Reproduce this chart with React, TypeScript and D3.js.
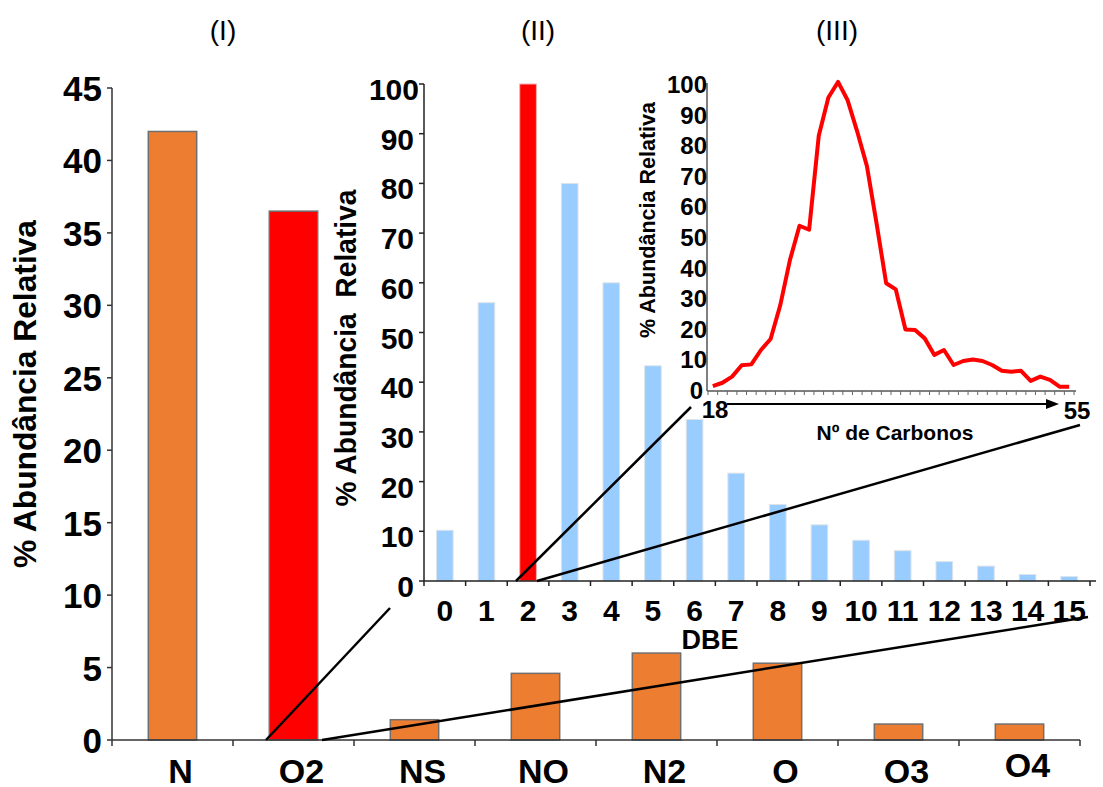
import React from "react";
import * as d3 from "d3";

// (I) relative abundance by heteroatom class
const classLabels = ["N", "O2", "NS", "NO", "N2", "O", "O3", "O4"];
const classAbundance = [42.0, 36.5, 1.4, 4.6, 6.0, 5.3, 1.1, 1.1];
const classTicks = [0, 5, 10, 15, 20, 25, 30, 35, 40, 45];

// (II) O2 class by DBE
const dbeLabels = ["0", "1", "2", "3", "4", "5", "6", "7", "8", "9", "10", "11", "12", "13", "14", "15"];
const dbeAbundance = [10.2, 56, 100, 80, 60, 43.3, 32.5, 21.7, 15.4, 11.3, 8.2, 6.1, 3.9, 3.0, 1.3, 0.9];
const dbeTicks = [0, 10, 20, 30, 40, 50, 60, 70, 80, 90, 100];

// (III) O2 / DBE 2 carbon-number distribution
const carbonNumbers = [
  18, 19, 20, 21, 22, 23, 24, 25, 26, 27, 28, 29, 30, 31, 32, 33, 34, 35, 36,
  37, 38, 39, 40, 41, 42, 43, 44, 45, 46, 47, 48, 49, 50, 51, 52, 53, 54, 55,
];
const carbonAbundance = [
  1.6, 2.7, 4.7, 8.4, 8.7, 13.4, 17.0, 28.0, 42.7, 54.0, 52.7, 83.4, 95.9, 101,
  95.0, 84.7, 73.5, 54.8, 35.2, 33.2, 20.1, 19.9, 17.2, 11.8, 13.4, 8.5, 9.8,
  10.3, 9.8, 8.5, 6.6, 6.3, 6.6, 3.3, 4.7, 3.6, 1.4, 1.4,
];
const carbonTicks = [0, 10, 20, 30, 40, 50, 60, 70, 80, 90, 100];

const FONT = "'Liberation Sans', Arial, Helvetica, sans-serif";
const ORANGE = "#ED7D31";
const RED = "#FF0000";
const BLUE = "#99CCFF";

export default function App() {
  // Panel I scales
  const x1 = d3.scaleBand<string>().domain(classLabels).range([112, 1080]).paddingInner(0).paddingOuter(0);
  const y1 = d3.scaleLinear().domain([0, 45]).range([740, 88]);
  const bw1 = x1.bandwidth() * 0.4;

  // Panel II scales
  const x2 = d3.scaleBand<string>().domain(dbeLabels).range([424, 1090]);
  const y2 = d3.scaleLinear().domain([0, 100]).range([581, 84]);
  const bw2 = x2.bandwidth() * 0.4;

  // Panel III scales
  const x3 = d3.scalePoint<number>().domain(carbonNumbers).range([708, 1074]).padding(0.5);
  const step3 = x3.step();
  const y3 = d3.scaleLinear().domain([0, 100]).range([391, 85]);
  const line3 = d3
    .line<number>()
    .x((_, i) => x3(carbonNumbers[i]) as number)
    .y((v) => y3(v));

  const bandEdges1 = d3.range(classLabels.length + 1).map((i) => 112 + i * x1.step());
  const bandEdges2 = d3.range(dbeLabels.length + 1).map((i) => 424 + i * x2.step());
  const bandEdges3 = d3
    .range(carbonNumbers.length + 1)
    .map((i) => (x3(carbonNumbers[0]) as number) - step3 / 2 + i * step3);

  return (
    <svg
      width={1103}
      height={787}
      viewBox="0 0 1103 787"
      style={{ position: "absolute", left: 0, top: 0, background: "#fff" }}
      fontFamily={FONT}
    >
      <rect x={0} y={0} width={1103} height={787} fill="#fff" />

      {/* panel headings */}
      <g fontSize={28} fill="#000" textAnchor="middle">
        <text x={223} y={40}>(I)</text>
        <text x={538} y={40}>(II)</text>
        <text x={837} y={40}>(III)</text>
      </g>

      {/* ===== Panel I ===== */}
      <g>
        {classLabels.map((c, i) => (
          <rect
            key={c}
            x={(x1(c) as number) + (x1.bandwidth() - bw1) / 2}
            y={y1(classAbundance[i])}
            width={bw1}
            height={y1(0) - y1(classAbundance[i])}
            fill={c === "O2" ? RED : ORANGE}
            stroke="#6f6f6f"
            strokeWidth={1.5}
          />
        ))}
        <line x1={112} y1={88} x2={112} y2={740} stroke="#333" strokeWidth={1.5} />
        <line x1={112} y1={740} x2={1080} y2={740} stroke="#333" strokeWidth={1.5} />
        {classTicks.map((t) => (
          <g key={t}>
            <line x1={107} x2={112} y1={y1(t)} y2={y1(t)} stroke="#333" strokeWidth={1.5} />
            <text x={102} y={y1(t) + 13} textAnchor="end" fontSize={35} fontWeight="bold">
              {t}
            </text>
          </g>
        ))}
        {bandEdges1.map((e, i) => (
          <line key={i} x1={e} x2={e} y1={740} y2={746} stroke="#333" strokeWidth={1.5} />
        ))}
        {classLabels.map((c) => (
          <text
            key={c}
            x={(x1(c) as number) + x1.bandwidth() / 2 + 8}
            y={c === "O4" ? 777 : 783}
            textAnchor="middle"
            fontSize={34}
            fontWeight="bold"
          >
            {c}
          </text>
        ))}
        <text
          transform="translate(36,394) rotate(-90)"
          textAnchor="middle"
          fontSize={32}
          fontWeight="bold"
          textLength={348}
          lengthAdjust="spacingAndGlyphs"
        >
          % Abundância Relativa
        </text>
      </g>

      {/* ===== Panel II ===== */}
      <g>
        {dbeLabels.map((d, i) => (
          <rect
            key={d}
            x={(x2(d) as number) + (x2.bandwidth() - bw2) / 2}
            y={y2(dbeAbundance[i])}
            width={bw2}
            height={y2(0) - y2(dbeAbundance[i])}
            fill={d === "2" ? RED : BLUE}
            stroke={d === "2" ? "#f3b0b0" : "#dde3ea"}
            strokeWidth={1}
          />
        ))}
        <line x1={424} y1={84} x2={424} y2={581} stroke="#222" strokeWidth={1.5} />
        <line x1={424} y1={581} x2={1096} y2={581} stroke="#222" strokeWidth={1.5} />
        {dbeTicks.map((t) => (
          <g key={t}>
            <line x1={419} x2={424} y1={y2(t)} y2={y2(t)} stroke="#222" strokeWidth={1.5} />
            <text x={t === 100 ? 419 : 414} y={y2(t) + 16} textAnchor="end" fontSize={30} fontWeight="bold">
              {t}
            </text>
          </g>
        ))}
        {bandEdges2.map((e, i) => (
          <line key={i} x1={e} x2={e} y1={581} y2={586} stroke="#222" strokeWidth={1.5} />
        ))}
        {dbeLabels.map((d) => (
          <text
            key={d}
            x={(x2(d) as number) + x2.bandwidth() / 2}
            y={621}
            textAnchor="middle"
            fontSize={30}
            fontWeight="bold"
          >
            {d}
          </text>
        ))}
        <text x={710} y={649} textAnchor="middle" fontSize={27} fontWeight="bold">
          DBE
        </text>
        <text
          transform="translate(356,348) rotate(-90)"
          textAnchor="middle"
          fontSize={29}
          fontWeight="bold"
          textLength={317}
          lengthAdjust="spacingAndGlyphs"
          style={{ whiteSpace: "pre" }}
        >
          {"% Abundância  Relativa"}
        </text>
      </g>

      {/* ===== Panel III ===== */}
      <g>
        <line x1={707} y1={83} x2={707} y2={391} stroke="#555" strokeWidth={1.5} />
        <line x1={707} y1={391} x2={1076} y2={391} stroke="#555" strokeWidth={1.5} />
        {bandEdges3.map((e, i) => (
          <line key={i} x1={e} x2={e} y1={391} y2={395} stroke="#666" strokeWidth={1} />
        ))}
        <path d={line3(carbonAbundance) || ""} fill="none" stroke={RED} strokeWidth={4} strokeLinejoin="round" />
        {carbonTicks.map((t) => (
          <text key={t} x={t === 0 ? 703 : 707} y={y3(t) + 8} textAnchor="end" fontSize={24} fontWeight="bold">
            {t}
          </text>
        ))}
        <text
          transform="translate(655,220) rotate(-90)"
          textAnchor="middle"
          fontSize={22}
          fontWeight="bold"
          textLength={236}
          lengthAdjust="spacingAndGlyphs"
        >
          % Abundância Relativa
        </text>
        {/* carbon-number range arrow */}
        <line x1={727} y1={404} x2={1050} y2={404} stroke="#000" strokeWidth={2} />
        <path d="M1046,399 L1059,404 L1046,409 Z" fill="#000" />
        <text x={715} y={418} textAnchor="middle" fontSize={24} fontWeight="bold">
          {carbonNumbers[0]}
        </text>
        <text x={1077} y={419} textAnchor="middle" fontSize={24} fontWeight="bold">
          {carbonNumbers[carbonNumbers.length - 1]}
        </text>
        <text x={895} y={440} textAnchor="middle" fontSize={21} fontWeight="bold">
          Nº de Carbonos
        </text>
      </g>

      {/* zoom connectors between panels */}
      <g stroke="#000" strokeWidth={2.5}>
        <line x1={266} y1={740} x2={390} y2={608} />
        <line x1={322} y1={740} x2={1088} y2={617} />
        <line x1={516} y1={581} x2={691} y2={407} />
        <line x1={537} y1={581} x2={1080} y2={425} />
      </g>
    </svg>
  );
}
